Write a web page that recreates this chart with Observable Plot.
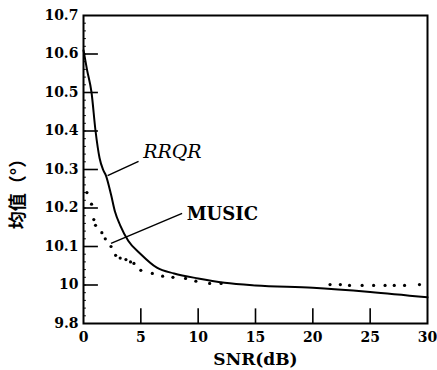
<!DOCTYPE html>
<html><head><meta charset="utf-8">
<script src="https://cdn.jsdelivr.net/npm/d3@7"></script>
<script src="https://cdn.jsdelivr.net/npm/@observablehq/plot@0.6"></script>
<style>body{margin:0;background:#fff}</style>
</head><body><div id="chart"></div>
<script>
// RRQR (solid curve)
const rrqrSnr  = [0, 0.3, 0.7, 1.05, 1.4, 1.7, 1.95, 2.4, 2.75, 3.2, 3.9, 5.0, 6.4, 7.9, 10, 12.3, 15, 20, 25, 30];
const rrqrMean = [10.61, 10.56, 10.50, 10.40, 10.33, 10.30, 10.285, 10.235, 10.19, 10.155, 10.115, 10.08, 10.045, 10.03, 10.017, 10.006, 9.999, 9.993, 9.982, 9.968];
// MUSIC (dotted)
const musicSnr  = [0.3, 0.7, 0.9, 1.05, 1.6, 1.9, 2.4, 2.8, 3.2, 3.7, 4.1, 4.4, 5.0, 6.0, 6.9, 7.8, 8.9, 9.8, 11, 12, 21.5, 22.4, 23.2, 24.3, 25.3, 26.3, 27.1, 28, 29.3];
const musicMean = [10.24, 10.21, 10.17, 10.155, 10.136, 10.12, 10.10, 10.077, 10.07, 10.066, 10.06, 10.056, 10.038, 10.03, 10.023, 10.02, 10.017, 10.01, 10.004, 10.004, 10.001, 10.001, 9.999, 9.999, 9.999, 9.999, 9.999, 9.999, 10.001];
// axes
const xTicks = [0, 5, 10, 15, 20, 25, 30];
const yTicks = [9.9, 10, 10.1, 10.2, 10.3, 10.4, 10.5, 10.6, 10.7];
const yTickLabels = ["9.8", "10", "10.1", "10.2", "10.3", "10.4", "10.5", "10.6", "10.7"];
const yMinor = d3.range(9.92, 10.7, 0.02);
const xLabel = "SNR(dB)";
const yLabel = "均值（°）";
// series labels with leader lines (data units)
const seriesNames = ["RRQR", "MUSIC"];
const labelSnr  = [5.2, 9.0];
const labelMean = [10.345, 10.183];
const leaderFromSnr  = [4.8, 8.6];
const leaderFromMean = [10.321, 10.186];
const leaderToSnr    = [2.1, 2.4];
const leaderToMean   = [10.284, 10.108];

const rrqr = rrqrSnr.map((x, i) => ({x, y: rrqrMean[i]}));
const music = musicSnr.map((x, i) => ({x, y: musicMean[i]}));
const labels = seriesNames.map((name, i) => ({name, x: labelSnr[i], y: labelMean[i],
  x1: leaderFromSnr[i], y1: leaderFromMean[i], x2: leaderToSnr[i], y2: leaderToMean[i]}));
const fmtY = d => yTickLabels[yTicks.findIndex(t => Math.abs(t - d) < 1e-6)];

const serif = "DejaVu Serif, serif";
const chart = Plot.plot({
  width: 437, height: 370,
  marginLeft: 83, marginRight: 10, marginTop: 15, marginBottom: 47,
  style: {fontFamily: serif, background: "#fff", color: "#000"},
  x: {domain: [0, 30]},
  y: {domain: [9.9, 10.7]},
  marks: [
    Plot.axisY(yTicks, {tickSize: 0, tickPadding: 5, tickFormat: fmtY, label: null, fontSize: 14, fontWeight: "bold"}),
    Plot.axisX(xTicks, {tickSize: 0, tickPadding: 9, label: null, fontSize: 14, fontWeight: "bold"}),
    Plot.ruleY(yTicks.slice(1, -1), {x1: 0, x2: 1.3, strokeWidth: 1.6}),
    Plot.ruleY(yMinor, {x1: 0, x2: 0.25, strokeWidth: 1}),
    Plot.ruleX(xTicks.slice(1, -1), {y1: 9.9, y2: 9.938, strokeWidth: 1.6}),
    Plot.line(rrqr, {x: "x", y: "y", curve: "monotone-x", stroke: "#000", strokeWidth: 2}),
    Plot.dot(music, {x: "x", y: "y", r: 1.6, fill: "#000", stroke: null}),
    Plot.link(labels, {x1: "x1", y1: "y1", x2: "x2", y2: "y2", stroke: "#000", strokeWidth: 1.5}),
    Plot.text(labels.filter(d => d.name === "RRQR"), {x: "x", y: "y", text: "name", textAnchor: "start", fontSize: 19, fontStyle: "italic", fontFamily: serif}),
    Plot.text(labels.filter(d => d.name === "MUSIC"), {x: "x", y: "y", text: "name", textAnchor: "start", fontSize: 18, fontWeight: "bold", fontFamily: serif}),
    Plot.text([xLabel], {frameAnchor: "bottom", dy: 41, text: d => d, fontSize: 17, fontWeight: "bold", fontFamily: serif}),
    Plot.text([yLabel], {frameAnchor: "left", dx: -65, dy: 20, rotate: -90, textAnchor: "middle", text: d => d, fontSize: 18, fontWeight: "bold", fontFamily: "Noto Sans CJK SC, sans-serif"}),
    Plot.frame({stroke: "#000", strokeWidth: 2})
  ]
});
document.getElementById("chart").append(chart);
</script>
</body></html>
